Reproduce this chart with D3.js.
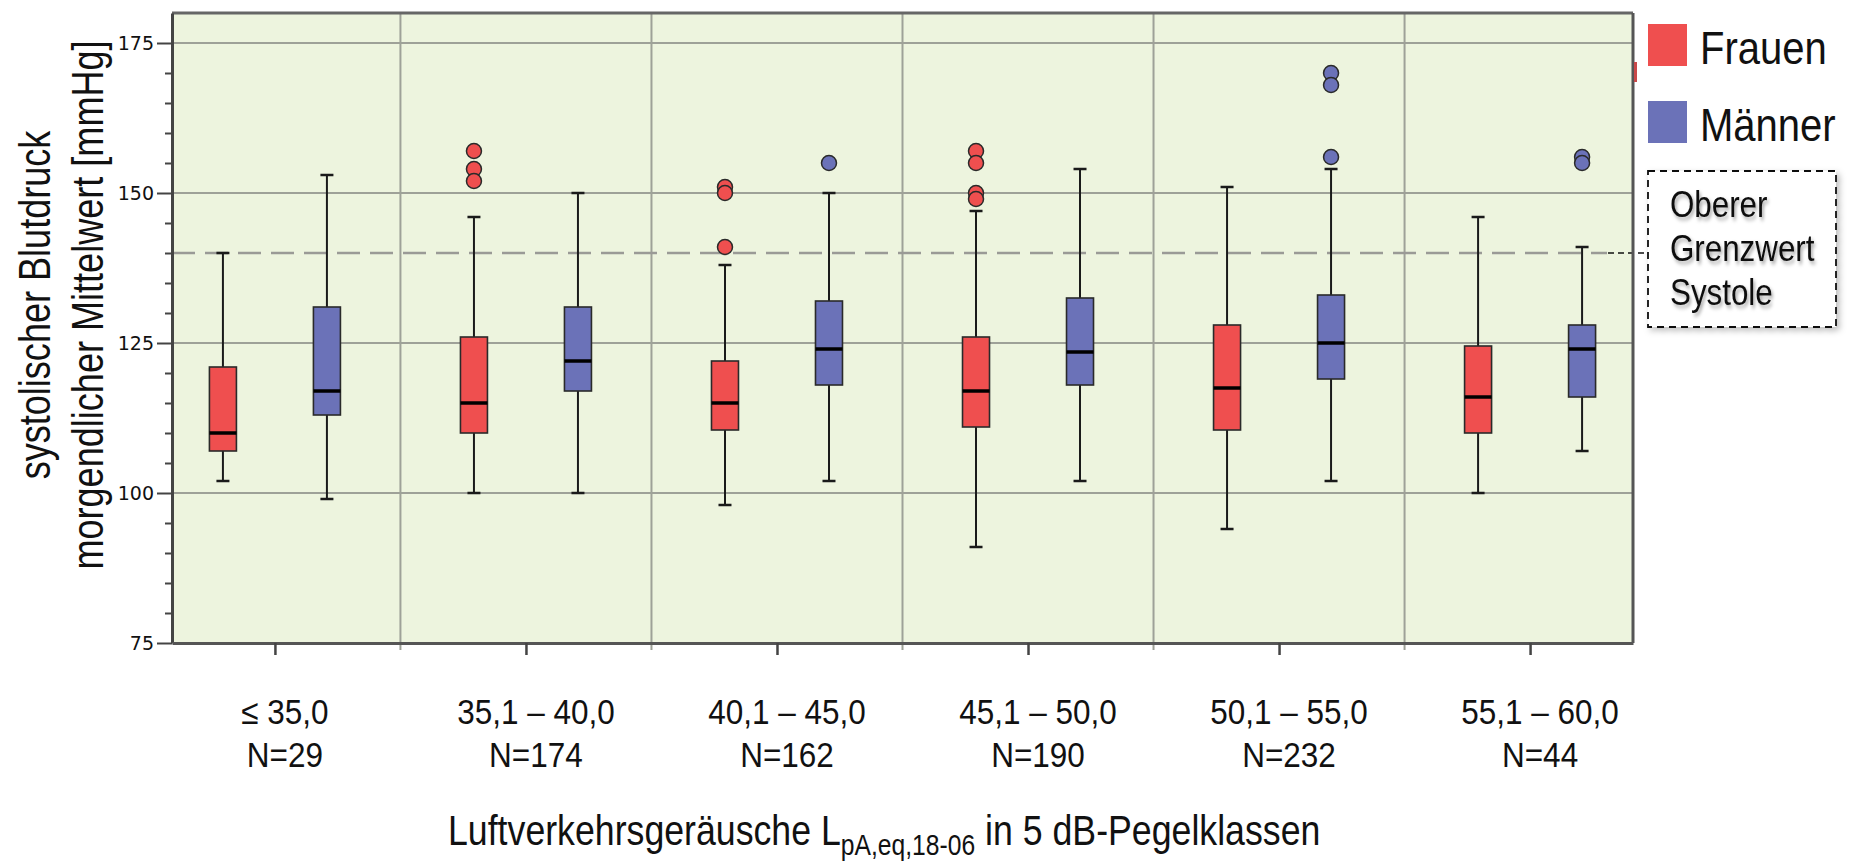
<!doctype html>
<html>
<head>
<meta charset="utf-8">
<script src="https://d3js.org/d3.v7.min.js"></script>
<style>
  body { margin: 0; background: #fff; }
  svg { display: block; }
  text { font-family: "Liberation Sans", Arial, sans-serif; fill: #111; }
</style>
</head>
<body>
<svg id="chart" width="1861" height="862"></svg>
<script>
var categories = ["≤ 35,0", "35,1 – 40,0", "40,1 – 45,0", "45,1 – 50,0", "50,1 – 55,0", "55,1 – 60,0"];
var counts = ["N=29", "N=174", "N=162", "N=190", "N=232", "N=44"];
var sexes = ["Frauen", "Männer"];

// [min, q1, median, q3, max] per category
var frauenBoxes = [
  [102, 107, 110, 121, 140],
  [100, 110, 115, 126, 146],
  [98, 110.5, 115, 122, 138],
  [91, 111, 117, 126, 147],
  [94, 110.5, 117.5, 128, 151],
  [100, 110, 116, 124.5, 146]
];
var maennerBoxes = [
  [99, 113, 117, 131, 153],
  [100, 117, 122, 131, 150],
  [102, 118, 124, 132, 150],
  [102, 118, 123.5, 132.5, 154],
  [102, 119, 125, 133, 154],
  [107, 116, 124, 128, 141]
];
var frauenOutliers = [[], [157, 154, 152], [151, 150, 141], [157, 155, 150, 149], [], []];
var maennerOutliers = [[], [], [155], [], [170, 168, 156], [156, 155]];

var yMajorTicks = [75, 100, 125, 150, 175];
var grenzwert = 140;
var grenzwertLines = ["Oberer", "Grenzwert", "Systole"];

var rows = [];
categories.forEach(function(c, i) {
  rows.push({cat: c, sex: "Frauen", s: frauenBoxes[i], out: frauenOutliers[i]});
  rows.push({cat: c, sex: "Männer", s: maennerBoxes[i], out: maennerOutliers[i]});
});

var svg = d3.select("#chart");
var plot = {left: 172, right: 1633, top: 13, bottom: 643};

var y = d3.scaleLinear().domain([75, 180]).range([plot.bottom, plot.top]);
var x = d3.scalePoint().domain(categories).range([plot.left, plot.right]).padding(0.41);
var xs = d3.scaleBand().domain(sexes).range([-104, 104]);
var color = d3.scaleOrdinal().domain(sexes).range(["#ef4f4f", "#6b72b8"]);
var boxW = 27, capW = 13;

var defs = svg.append("defs");
var f1 = defs.append("filter").attr("id", "shadow").attr("x", "-20%").attr("y", "-20%").attr("width", "140%").attr("height", "140%");
f1.append("feDropShadow").attr("dx", 3).attr("dy", 3).attr("stdDeviation", 3).attr("flood-color", "#000").attr("flood-opacity", 0.25);
var f2 = defs.append("filter").attr("id", "tshadow").attr("x", "-10%").attr("y", "-30%").attr("width", "130%").attr("height", "170%");
f2.append("feDropShadow").attr("dx", 2).attr("dy", 3).attr("stdDeviation", 2).attr("flood-color", "#000").attr("flood-opacity", 0.35);

function narrowText(g, px, py, str, size, sx, anchor) {
  return g.append("text")
    .attr("transform", "translate(" + px + "," + py + ") scale(" + sx + ",1)")
    .attr("text-anchor", anchor || "middle")
    .attr("font-size", size)
    .text(str);
}

// plot background
svg.append("rect")
  .attr("x", plot.left).attr("y", plot.top)
  .attr("width", plot.right - plot.left).attr("height", plot.bottom - plot.top)
  .attr("fill", "#edf4de");

// grid
svg.append("g").selectAll("line").data(yMajorTicks.slice(1)).join("line")
  .attr("x1", plot.left).attr("x2", plot.right)
  .attr("y1", d => y(d)).attr("y2", d => y(d))
  .attr("stroke", "#9ea198").attr("stroke-width", 2);

svg.append("g").selectAll("line").data(categories.slice(1)).join("line")
  .attr("x1", d => x(d) - x.step() / 2).attr("x2", d => x(d) - x.step() / 2)
  .attr("y1", plot.top).attr("y2", plot.bottom + 7)
  .attr("stroke", "#9ea198").attr("stroke-width", 2);

// threshold line
svg.append("line")
  .attr("x1", plot.left).attr("x2", 1607)
  .attr("y1", y(grenzwert)).attr("y2", y(grenzwert))
  .attr("stroke", "#9a9a96").attr("stroke-width", 2.5).attr("stroke-dasharray", "23,10");
svg.append("line")
  .attr("x1", 1608).attr("x2", 1648)
  .attr("y1", y(grenzwert)).attr("y2", y(grenzwert))
  .attr("stroke", "#111").attr("stroke-width", 1.5).attr("stroke-dasharray", "6,4");

// frame
svg.append("line").attr("x1", plot.left).attr("x2", plot.right).attr("y1", plot.top).attr("y2", plot.top)
  .attr("stroke", "#666").attr("stroke-width", 3);
svg.append("line").attr("x1", plot.right).attr("x2", plot.right).attr("y1", plot.top).attr("y2", plot.bottom)
  .attr("stroke", "#555").attr("stroke-width", 3);

// boxes
var box = svg.append("g").selectAll("g").data(rows).join("g")
  .attr("transform", d => "translate(" + (x(d.cat) + xs(d.sex) + xs.bandwidth() / 2) + ",0)");

box.append("line").attr("x1", 0).attr("x2", 0)
  .attr("y1", d => y(d.s[4])).attr("y2", d => y(d.s[3]))
  .attr("stroke", "#1a1a1a").attr("stroke-width", 2);
box.append("line").attr("x1", 0).attr("x2", 0)
  .attr("y1", d => y(d.s[1])).attr("y2", d => y(d.s[0]))
  .attr("stroke", "#1a1a1a").attr("stroke-width", 2);
box.append("line").attr("x1", -capW / 2).attr("x2", capW / 2)
  .attr("y1", d => y(d.s[4])).attr("y2", d => y(d.s[4]))
  .attr("stroke", "#1a1a1a").attr("stroke-width", 2.5);
box.append("line").attr("x1", -capW / 2).attr("x2", capW / 2)
  .attr("y1", d => y(d.s[0])).attr("y2", d => y(d.s[0]))
  .attr("stroke", "#1a1a1a").attr("stroke-width", 2.5);
box.append("rect")
  .attr("x", -boxW / 2).attr("width", boxW)
  .attr("y", d => y(d.s[3])).attr("height", d => y(d.s[1]) - y(d.s[3]))
  .attr("fill", d => color(d.sex)).attr("stroke", "#2a2a2a").attr("stroke-width", 1.6);
box.append("line").attr("x1", -boxW / 2).attr("x2", boxW / 2)
  .attr("y1", d => y(d.s[2])).attr("y2", d => y(d.s[2]))
  .attr("stroke", "#000").attr("stroke-width", 3.5);
box.selectAll("circle").data(d => d.out.map(v => ({v: v, sex: d.sex}))).join("circle")
  .attr("cx", 0).attr("cy", d => y(d.v)).attr("r", 7.5)
  .attr("fill", d => color(d.sex)).attr("stroke", "#2a2a2a").attr("stroke-width", 1.5);

// y axis
var yAxis = d3.axisLeft(y).tickValues(yMajorTicks).tickSize(15).tickSizeOuter(0).tickPadding(3);
var yg = svg.append("g").attr("transform", "translate(" + plot.left + ",0)").call(yAxis);
yg.select(".domain").attr("stroke", "#444").attr("stroke-width", 3);
yg.selectAll(".tick line").attr("stroke", "#444").attr("stroke-width", 2);
yg.selectAll(".tick text")
  .style("font-family", "'DejaVu Sans', Verdana, sans-serif")
  .attr("font-size", 19).attr("fill", "#6a4b35");

var minor = d3.range(80, 180, 5).filter(v => yMajorTicks.indexOf(v) < 0);
var yMinor = d3.axisLeft(y).tickValues(minor).tickSize(7).tickSizeOuter(0).tickFormat("");
var ym = svg.append("g").attr("transform", "translate(" + plot.left + ",0)").call(yMinor);
ym.select(".domain").remove();
ym.selectAll(".tick line").attr("stroke", "#444").attr("stroke-width", 2);

// x axis
var xAxis = d3.axisBottom(x).tickSize(12).tickSizeOuter(0).tickFormat("");
var xg = svg.append("g").attr("transform", "translate(0," + plot.bottom + ")").call(xAxis);
xg.select(".domain").attr("stroke", "#555").attr("stroke-width", 3);
xg.selectAll(".tick line").attr("stroke", "#444").attr("stroke-width", 2.5);

var xl = svg.append("g");
categories.forEach(function(c, i) {
  narrowText(xl, x(c) + 10, 724, c, 35, 0.9);
  narrowText(xl, x(c) + 10, 767, counts[i], 35, 0.9);
});

// axis titles
var xt = svg.append("text")
  .attr("transform", "translate(448,845) scale(0.85,1)")
  .attr("font-size", 42);
xt.append("tspan").text("Luftverkehrsgeräusche L");
xt.append("tspan").attr("font-size", 29).attr("dy", 10).text("pA,eq,18-06");
xt.append("tspan").attr("dy", -10).text(" in 5 dB-Pegelklassen");

svg.append("text")
  .attr("transform", "translate(50,305) rotate(-90) scale(0.82,1)")
  .attr("text-anchor", "middle").attr("font-size", 44)
  .text("systolischer Blutdruck");
svg.append("text")
  .attr("transform", "translate(103,305) rotate(-90) scale(0.82,1)")
  .attr("text-anchor", "middle").attr("font-size", 44)
  .text("morgendlicher Mittelwert [mmHg]");

// legend
var lg = svg.append("g");
var legendY = {"Frauen": 24, "Männer": 101};
sexes.forEach(function(s) {
  lg.append("rect").attr("x", 1648).attr("y", legendY[s]).attr("width", 39).attr("height", 42).attr("fill", color(s));
  narrowText(lg, 1700, legendY[s] + 40, s, 46, 0.87, "start");
});
lg.append("rect").attr("x", 1634).attr("y", 62).attr("width", 3).attr("height", 20).attr("fill", "#c84848");

lg.append("rect")
  .attr("x", 1648).attr("y", 171).attr("width", 188).attr("height", 156)
  .attr("fill", "#fff").attr("stroke", "#111").attr("stroke-width", 1.8)
  .attr("stroke-dasharray", "7,5").attr("filter", "url(#shadow)");
grenzwertLines.forEach(function(t, i) {
  narrowText(lg, 1670, 217 + i * 44, t, 36, 0.87, "start").attr("filter", "url(#tshadow)");
});
</script>
</body>
</html>
